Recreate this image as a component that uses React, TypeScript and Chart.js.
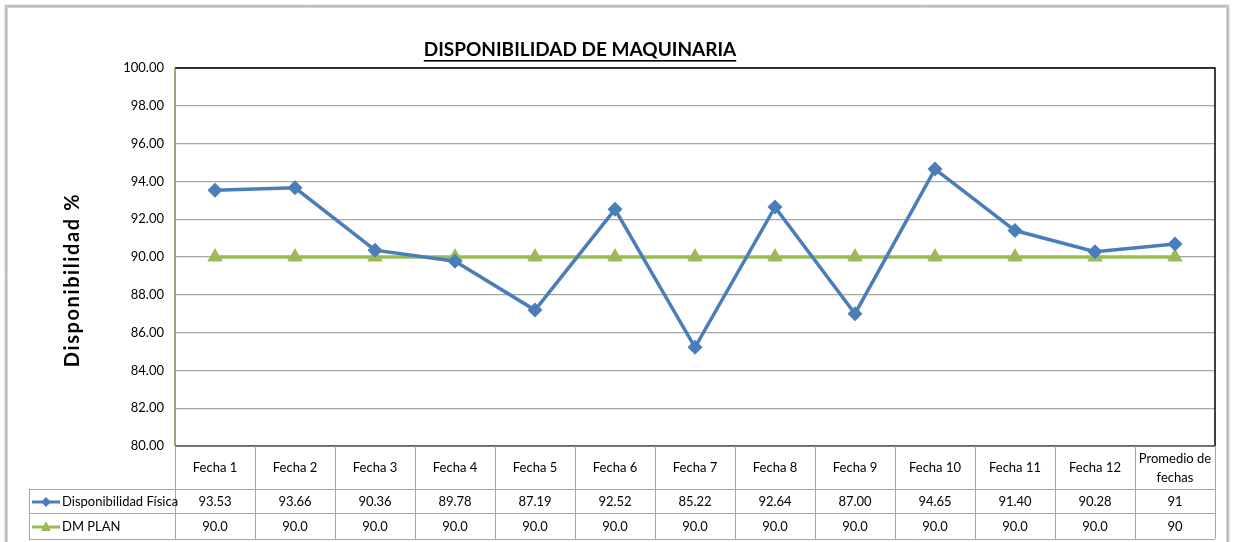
import React, { useEffect, useRef } from "react";
import { Chart, registerables } from "chart.js";

Chart.register(...registerables);

const categories = ["Fecha 1", "Fecha 2", "Fecha 3", "Fecha 4", "Fecha 5", "Fecha 6", "Fecha 7", "Fecha 8", "Fecha 9", "Fecha 10", "Fecha 11", "Fecha 12", "Promedio de|fechas"];
const disponibilidad = [93.53, 93.66, 90.36, 89.78, 87.19, 92.52, 85.22, 92.64, 87.0, 94.65, 91.4, 90.28, 90.69];
const dmPlan = [90, 90, 90, 90, 90, 90, 90, 90, 90, 90, 90, 90, 90];
const dispLabels = ["93.53", "93.66", "90.36", "89.78", "87.19", "92.52", "85.22", "92.64", "87.00", "94.65", "91.40", "90.28", "91"];
const planLabels = ["90.0", "90.0", "90.0", "90.0", "90.0", "90.0", "90.0", "90.0", "90.0", "90.0", "90.0", "90.0", "90"];

const FONT = "Lato, 'Noto Sans', sans-serif";
const BLUE = "#4a7ebb";
const GREEN = "#9bbb59";

const seriesNames = ["Disponibilidad Física", "DM PLAN"];

export default function App() {
  const ref = useRef<HTMLCanvasElement | null>(null);
  useEffect(() => {
    if (!ref.current) return;
    const decor = {
      id: "decor",
      beforeDraw(chart: any) {
        const c = chart.ctx;
        c.save();
        c.fillStyle = "#ffffff";
        c.fillRect(0, 0, chart.width, chart.height);
        const grads = [
          ["#e6e6e6", 4], ["#c8c8c8", 5], ["#b4b4b4", 6], ["#d8d8d8", 7],
        ] as [string, number][];
        for (const [col, off] of grads) {
          c.strokeStyle = col;
          c.lineWidth = 1;
          c.beginPath();
          c.moveTo(off + 0.5, chart.height + 2);
          c.lineTo(off + 0.5, off + 0.5);
          c.lineTo(chart.width - off - 0.5, off + 0.5);
          c.lineTo(chart.width - off - 0.5, chart.height + 2);
          c.stroke();
        }
        c.restore();
      },
      afterDraw(chart: any) {
        const c = chart.ctx;
        const a = chart.chartArea;
        c.save();
        c.lineWidth = 1.5;
        c.strokeStyle = "#000";
        c.beginPath();
        c.moveTo(a.left, a.top);
        c.lineTo(a.right, a.top);
        c.lineTo(a.right, a.bottom);
        c.stroke();
        c.strokeStyle = "#7a8a4a";
        c.beginPath();
        c.moveTo(a.left, a.top);
        c.lineTo(a.left, a.bottom);
        c.stroke();
        c.strokeStyle = "#555";
        c.beginPath();
        c.moveTo(a.left, a.bottom);
        c.lineTo(a.right, a.bottom);
        c.stroke();

        // title
        c.fillStyle = "#000";
        c.font = `bold 19px ${FONT}`;
        c.textAlign = "center";
        c.textBaseline = "middle";
        const title = "DISPONIBILIDAD DE MAQUINARIA";
        const tx = 580;
        const ty = 50;
        c.fillText(title, tx, ty);
        const tw = c.measureText(title).width;
        c.fillRect(tx - tw / 2, ty + 10, tw, 1.6);

        // y title
        c.save();
        c.translate(73, 280);
        c.rotate(-Math.PI / 2);
        c.font = `bold 20px ${FONT}`;
        (c as any).letterSpacing = "1.6px";
        c.fillText("Disponibilidad %", 0, 0);
        c.restore();

        // table
        const n = categories.length;
        const w = (a.right - a.left) / n;
        const r1 = a.bottom;
        const r2 = 489;
        const r3 = 513;
        const r4 = 539;
        const legL = 29;
        c.strokeStyle = "#a6a6a6";
        c.lineWidth = 1;
        for (let i = 0; i <= n; i++) {
          const x = Math.round(a.left + i * w) + 0.5;
          c.beginPath();
          c.moveTo(x, r1);
          c.lineTo(x, r4);
          c.stroke();
        }
        for (const y of [r2, r3, r4]) {
          c.beginPath();
          c.moveTo(legL, y + 0.5);
          c.lineTo(a.right, y + 0.5);
          c.stroke();
        }
        c.beginPath();
        c.moveTo(legL + 0.5, r2);
        c.lineTo(legL + 0.5, r4);
        c.stroke();

        c.fillStyle = "#000";
        c.font = `13px ${FONT}`;
        c.textAlign = "center";
        const xs = chart.scales.x;
        for (let i = 0; i < n; i++) {
          const cx = xs.getPixelForValue(i);
          const parts = categories[i].split("|");
          if (parts.length === 1) {
            c.fillText(parts[0], cx, (r1 + r2) / 2);
          } else {
            c.fillText(parts[0], cx, (r1 + r2) / 2 - 9);
            c.fillText(parts[1], cx, (r1 + r2) / 2 + 10);
          }
          c.fillText(dispLabels[i], cx, (r2 + r3) / 2 + 1);
          c.fillText(planLabels[i], cx, (r3 + r4) / 2 + 1);
        }
        const rows = [(r2 + r3) / 2 + 1, (r3 + r4) / 2 + 1];
        const cols = [BLUE, GREEN];
        rows.forEach((y, k) => {
          c.strokeStyle = cols[k];
          c.lineWidth = 3;
          c.beginPath();
          c.moveTo(32, y);
          c.lineTo(60, y);
          c.stroke();
          c.fillStyle = cols[k];
          c.beginPath();
          if (k === 0) {
            c.moveTo(46, y - 5);
            c.lineTo(51, y);
            c.lineTo(46, y + 5);
            c.lineTo(41, y);
          } else {
            c.moveTo(46, y - 6);
            c.lineTo(51, y + 4);
            c.lineTo(41, y + 4);
          }
          c.closePath();
          c.fill();
          c.fillStyle = "#000";
          c.textAlign = "left";
          c.fillText(seriesNames[k], 62, y);
        });
        c.restore();
      },
    };

    const chart = new Chart(ref.current, {
      type: "line",
      data: {
        labels: categories,
        datasets: [
          {
            label: seriesNames[0],
            data: disponibilidad,
            borderColor: BLUE,
            backgroundColor: BLUE,
            borderWidth: 3.5,
            pointStyle: "rectRot",
            pointRadius: 7.5,
            pointBorderWidth: 0,
            tension: 0,
            order: 1,
          },
          {
            label: seriesNames[1],
            data: dmPlan,
            borderColor: GREEN,
            backgroundColor: GREEN,
            borderWidth: 3.5,
            pointStyle: "triangle",
            pointRadius: 9,
            pointBorderWidth: 0,
            tension: 0,
            order: 2,
          },
        ],
      },
      options: {
        animation: false,
        responsive: false,
        maintainAspectRatio: false,
        layout: { padding: { left: 100, right: 19, top: 68, bottom: 96 } },
        plugins: { legend: { display: false }, tooltip: { enabled: false }, title: { display: false } },
        scales: {
          x: { display: false, offset: true, grid: { display: false } },
          y: {
            min: 80,
            max: 100,
            afterFit: (s: any) => {
              s.width = 75;
            },
            ticks: {
              stepSize: 2,
              padding: 11,
              color: "#000",
              font: { family: FONT, size: 13 },
              callback: (v: any) => Number(v).toFixed(2),
            },
            grid: { color: "#a6a6a6", lineWidth: 1.2, drawTicks: false },
            border: { display: false },
          },
        },
      },
      plugins: [decor],
    });
    return () => chart.destroy();
  }, []);
  return (
    <div style={{ position: "fixed", left: 0, top: 0, width: 1234, height: 542 }}>
      <canvas ref={ref} width={1234} height={542} style={{ width: 1234, height: 542 }} />
    </div>
  );
}
